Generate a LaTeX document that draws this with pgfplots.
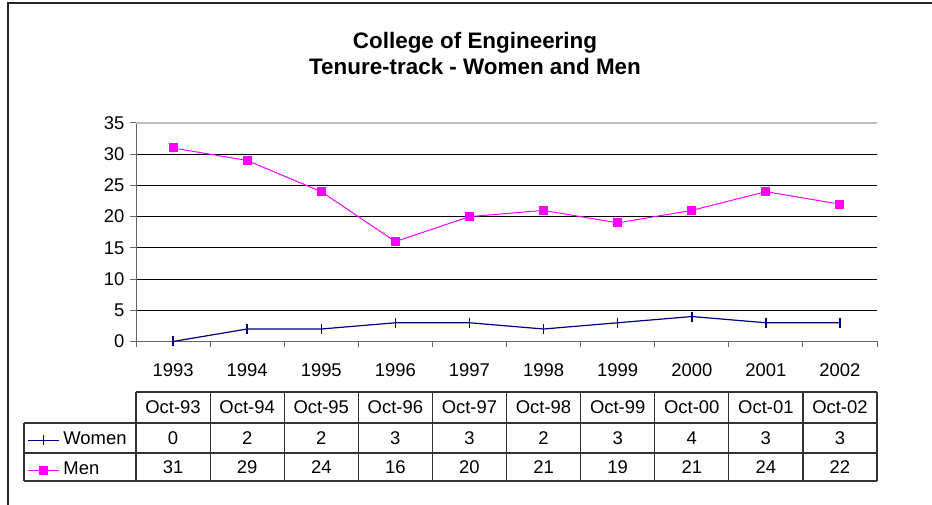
\documentclass[border=0pt]{standalone}
\usepackage{fontspec}
\setmainfont{Liberation Sans}
\usepackage{pgfplots}
\pgfplotsset{compat=1.18}
\definecolor{navyc}{RGB}{0,0,128}
\definecolor{magc}{RGB}{255,0,255}
\newcommand{\tf}{\fontsize{18.5}{22}\selectfont}
\begin{document}
\begin{tikzpicture}[x=1bp,y=1bp]
\useasboundingbox (0,0) rectangle (932,505);
\draw[line width=2bp, black!85] (7.5,0) -- (7.5,501.5) -- (932,501.5);
\node[font=\bfseries\fontsize{22.5}{27}\selectfont, align=center] at (475,451.5) {College of Engineering\\Tenure-track - Women and Men};
\begin{axis}[
  at={(136bp,163.5bp)}, anchor=south west,
  scale only axis, width=741bp, height=218.5bp,
  xmin=0, xmax=10, ymin=0, ymax=35,
  clip=false,
  axis x line*=bottom, axis y line*=left,
  axis line style={black!60, line width=1bp},
  ytick={0,5,...,30},
  extra y ticks={35},
  extra y tick style={grid style={black!25, line width=1.5bp}},
  ymajorgrids, grid style={black, line width=1bp},
  xtick={0,...,10}, xticklabels={},
  extra x ticks={0.5,1.5,...,9.5},
  extra x tick labels={1993,1994,1995,1996,1997,1998,1999,2000,2001,2002},
  extra x tick style={major tick length=0pt, grid=none},
  tick align=outside, major tick length=6bp,
  tick style={black!60, line width=1bp},
  tick label style={font=\tf},
  /pgf/number format/assume math mode=true,
  xticklabel style={yshift=-19bp},
  yticklabel style={xshift=-2bp},
  legend style={at={(-0.1471,-0.4097)}, anchor=north west, draw=none, fill=none,
     inner sep=0pt, font=\tf, row sep=12bp,
     nodes={inner sep=0pt, text height=13.5bp, text depth=4.5bp},
     /tikz/every odd column/.append style={column sep=4bp}},
  legend cell align=left,
  legend image code/.code={\draw[mark repeat=2,mark phase=2,#1] plot coordinates {(0bp,0bp) (15.5bp,0bp) (31bp,0bp)};},
]
\addplot[navyc, line width=1.2bp, mark=|, mark size=5bp, mark options={line width=1.5bp}] coordinates {
 (0.5,0) (1.5,2) (2.5,2) (3.5,3) (4.5,3) (5.5,2) (6.5,3) (7.5,4) (8.5,3) (9.5,3)};
\addplot[magc, line width=1bp, mark=square*, mark size=4bp] coordinates {
 (0.5,31) (1.5,29) (2.5,24) (3.5,16) (4.5,20) (5.5,21) (6.5,19) (7.5,21) (8.5,24) (9.5,22)};
\legend{Women,Men}
\end{axis}
% data table
\draw[line width=1.2bp, black!80] (136,113) -- (877,113);
\foreach \yy in {82,52,24} {\draw[line width=1.2bp, black!80] (24,\yy) -- (877,\yy);}
\foreach \k in {0,...,10} {\draw[line width=1.2bp, black!80] ({136+74.1*\k},113) -- ({136+74.1*\k},24);}
\draw[line width=1.2bp, black!80] (24,82) -- (24,24);
\foreach \h [count=\i from 0] in {Oct-93,Oct-94,Oct-95,Oct-96,Oct-97,Oct-98,Oct-99,Oct-00,Oct-01,Oct-02}
  {\node[font=\tf] at ({173.05+74.1*\i},97.5) {\h};}
\foreach \h [count=\i from 0] in {0,2,2,3,3,2,3,4,3,3}
  {\node[font=\tf] at ({173.05+74.1*\i},67) {\h};}
\foreach \h [count=\i from 0] in {31,29,24,16,20,21,19,21,24,22}
  {\node[font=\tf] at ({173.05+74.1*\i},38) {\h};}
\end{tikzpicture}
\end{document}
